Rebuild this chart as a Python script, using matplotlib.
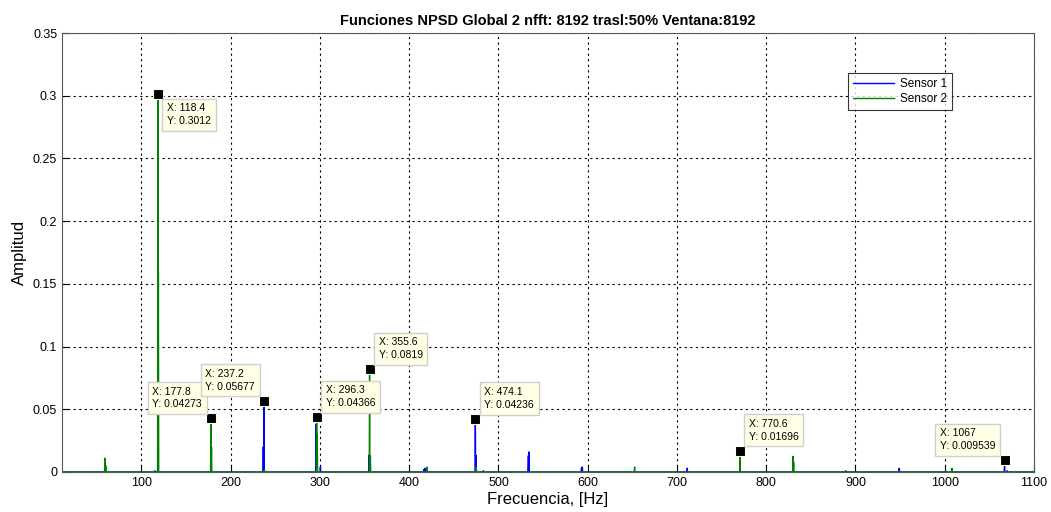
import numpy as np
import matplotlib
matplotlib.use('Agg')
import matplotlib.pyplot as plt

plt.rcParams['font.family'] = ['Liberation Sans', 'DejaVu Sans']

# Peaks of each spectrum: frequency [Hz] and amplitude
s1_freq = [115.0, 236.5, 237.2, 295.5, 296.0, 300.5, 355.0, 416.5, 417.5, 474.1, 475.0, 483.0,
           533.5, 534.0, 593.0, 594.0, 711.5, 770.5, 830.0, 889.0, 949.0, 1067.0, 1070.0]
s1_amp = [0.001, 0.02, 0.05677, 0.038, 0.032, 0.004, 0.0135, 0.002, 0.003, 0.04236, 0.013, 0.001,
          0.013, 0.016, 0.003, 0.004, 0.003, 0.002, 0.002, 0.001, 0.003, 0.009539, 0.001]

s2_freq = [59.0, 60.0, 118.4, 119.0, 177.8, 178.5, 237.8, 296.3, 297.0, 355.6, 356.5,
           420.0, 474.5, 652.5, 770.6, 830.0, 830.7, 1008.0]
s2_amp = [0.011, 0.005, 0.3012, 0.16, 0.04273, 0.02, 0.002, 0.04366, 0.03, 0.0819, 0.013,
          0.004, 0.004, 0.004, 0.01696, 0.0125, 0.008, 0.003]

# Data tips: x, y, placement of the label box
tip_x = [118.4, 177.8, 237.2, 296.3, 355.6, 474.1, 770.6, 1067]
tip_y = [0.3012, 0.04273, 0.05677, 0.04366, 0.0819, 0.04236, 0.01696, 0.009539]
tip_side = ['rd', 'lu', 'lu', 'ru', 'ru', 'ru', 'ru', 'lu']


def spectrum(freq, amp, f0=11.0, f1=1100.0, w=0.35):
    # zero baseline with a narrow spike at every peak
    x = [f0]
    y = [0.0]
    for f, a in sorted(zip(freq, amp)):
        x += [f - w, f, f + w]
        y += [0.0, a, 0.0]
    x.append(f1)
    y.append(0.0)
    return np.array(x), np.array(y)


fig = plt.figure(figsize=(10.51, 5.12), dpi=100)
ax = fig.add_axes([62 / 1051, 1 - 472 / 512, (1034 - 62) / 1051, (472 - 33) / 512])

x1, y1 = spectrum(s1_freq, s1_amp)
x2, y2 = spectrum(s2_freq, s2_amp)
ax.plot(x1, y1, color='#0000ff', lw=1.0, label='Sensor 1')
ax.plot(x2, y2, color='#008000', lw=1.0, label='Sensor 2')

ax.set_xlim(11, 1100)
ax.set_ylim(0, 0.35)
ax.set_xticks(np.arange(100, 1101, 100))
ax.set_yticks(np.arange(0, 0.351, 0.05))
ax.set_yticklabels(['0', '0.05', '0.1', '0.15', '0.2', '0.25', '0.3', '0.35'])
ax.tick_params(direction='in', labelsize=9, length=5, top=False, right=False)
ax.grid(True, color='black', linestyle=(0, (2, 3)), lw=0.8)
for sp in ax.spines.values():
    sp.set_color('#555555')

ax.set_title('Funciones NPSD Global 2 nfft: 8192 trasl:50% Ventana:8192',
             fontsize=10.5, fontweight='bold', pad=6)
ax.set_xlabel('Frecuencia, [Hz]', fontsize=12, labelpad=2)
ax.set_ylabel('Amplitud', fontsize=12, labelpad=4)

leg = ax.legend(loc='upper left', bbox_to_anchor=(786 / 972, 1 - 40 / 439), fontsize=8.5,
                frameon=True, fancybox=False, handlelength=3.5, borderpad=0.4,
                labelspacing=0.3, handletextpad=0.5, borderaxespad=0)
leg.get_frame().set_edgecolor('black')
leg.get_frame().set_linewidth(0.8)

offsets = {'rd': ((9, -9), 'left', 'top'),
           'lu': ((-9, 9), 'right', 'bottom'),
           'ru': ((9, 9), 'left', 'bottom')}
for x, y, side in zip(tip_x, tip_y, tip_side):
    ax.plot(x, y, marker='s', ms=6.5, color='black', mec='#ffffe0', mew=0.8,
            zorder=5, clip_on=False)
    off, ha, va = offsets[side]
    ax.annotate('X: %s\nY: %s' % (x, y), (x, y), xytext=off, textcoords='offset pixels',
                ha=ha, va=va, multialignment='left', fontsize=7.5, linespacing=1.35,
                zorder=6,
                bbox=dict(boxstyle='square,pad=0.45', fc='#ffffe6', ec='#cfcfcf', lw=1))

fig.savefig('out.png', dpi=100)
